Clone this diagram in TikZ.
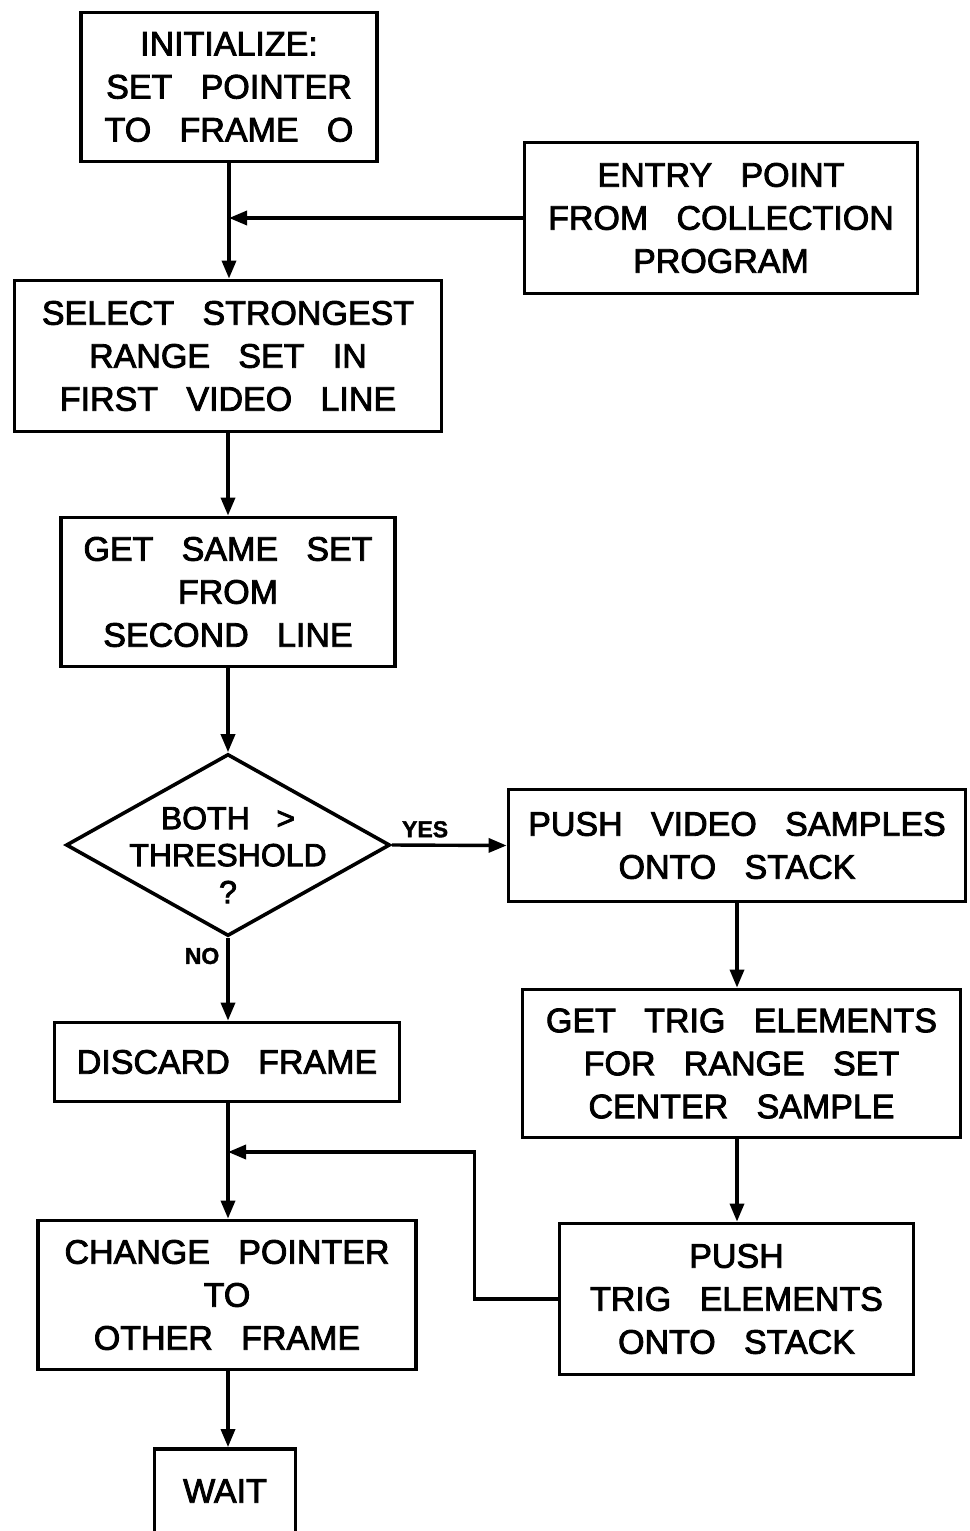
\documentclass[tikz,border=0pt]{standalone}
\usepackage{fontspec}
\usetikzlibrary{arrows.meta,shapes.geometric}
% Lettering for the flowchart: plain sans, heavy stroke, wide word gaps
\newfontfamily\flowfont{Liberation Sans}[FakeBold=2.5,WordSpace=3]
\newfontfamily\tagfont{Liberation Sans Bold}[FakeBold=1.5]
\begin{document}
\begin{tikzpicture}[x=1pt,y=-1pt,
  stepbox/.style={draw, line width=3.8pt, align=center, inner sep=0pt,
    font=\flowfont\fontsize{34}{43}\selectfont},
  decision/.style={draw, diamond, line width=3.6pt, inner sep=0pt},
  decisiontext/.style={align=center, inner sep=0pt,
    font=\flowfont\fontsize{32}{37}\selectfont},
  flow/.style={line width=3.4pt, -{Triangle[length=18pt,width=14pt]}},
  answer/.style={inner sep=0pt, font=\tagfont\fontsize{23}{23}\selectfont}]

\useasboundingbox (0,0) rectangle (969,1531);
\clip (0,0) rectangle (969,1531);
\fill[white] (0,0) rectangle (969,1531);

% main column
\node[stepbox, minimum width=296, minimum height=149] (init) at (229,87)
  {INITIALIZE:\\SET POINTER\\TO FRAME O};
\node[stepbox, minimum width=427, minimum height=151] (select) at (228,356)
  {SELECT STRONGEST\\RANGE SET IN\\FIRST VIDEO LINE};
\node[stepbox, minimum width=334, minimum height=149] (getsame) at (228,592)
  {GET SAME SET\\FROM\\SECOND LINE};
\node[decision, minimum width=324, minimum height=182] (test) at (228,845) {};
\node[decisiontext] (testtxt) at (228,855) {BOTH >\\THRESHOLD\\?};
\node[stepbox, minimum width=345, minimum height=79] (discard) at (227,1062)
  {DISCARD FRAME};
\node[stepbox, minimum width=378, minimum height=149] (change) at (227,1295)
  {CHANGE POINTER\\TO\\OTHER FRAME};
\node[stepbox, minimum width=141, minimum height=84] (wait) at (225,1491)
  {WAIT};

% right column
\node[stepbox, minimum width=393, minimum height=151] (entry) at (721,218)
  {ENTRY POINT\\FROM COLLECTION\\PROGRAM};
\node[stepbox, minimum width=457, minimum height=112] (pushvid) at (737,845.5)
  {PUSH VIDEO SAMPLES\\ONTO STACK};
\node[stepbox, minimum width=438, minimum height=148] (gettrig) at (741.5,1063.5)
  {GET TRIG ELEMENTS\\FOR RANGE SET\\CENTER SAMPLE};
\node[stepbox, minimum width=354, minimum height=151] (pushtrig) at (736.5,1299)
  {PUSH\\TRIG ELEMENTS\\ONTO STACK};

% junction points on the main line
\coordinate (entryjoin) at (init.south |- entry.west);
\coordinate (loopjoin) at (228,1152);

% connectors
\draw[flow] (init.south) -- (init.south |- select.north);
\draw[flow] (entry.west) -- (entryjoin);
\draw[flow] (select.south) -- (select.south |- getsame.north);
\draw[flow] (getsame.south) -- (test.north);
\draw[flow] (test.east) -- node[answer, pos=0.29, above=6pt] {YES} (pushvid.west);
\draw[flow] (test.south) -- node[answer, pos=0.22, left=7pt] {NO} (test.south |- discard.north);
\draw[flow] (pushvid.south) -- (pushvid.south |- gettrig.north);
\draw[flow] (pushvid.south |- gettrig.south) -- (pushvid.south |- pushtrig.north);
\draw[flow] (test.south |- discard.south) -- (test.south |- change.north);
\draw[flow] (pushtrig.west) -- ++(-83,0) |- (loopjoin);
\draw[flow] (test.south |- change.south) -- (test.south |- wait.north);
\end{tikzpicture}
\end{document}
